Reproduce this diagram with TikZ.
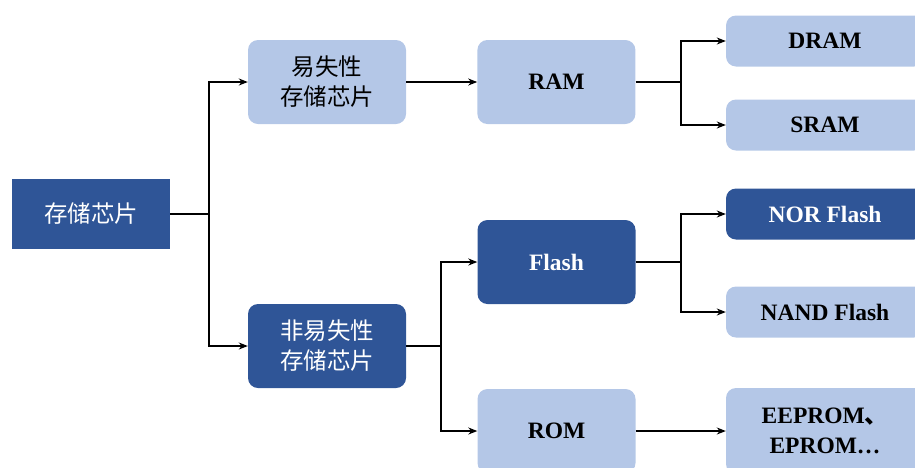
\documentclass[tikz,border=0pt]{standalone}
\usepackage{fontspec}
\setmainfont{Liberation Serif}
\newfontfamily\cjk{Noto Sans CJK SC}
\usepackage{xcolor}
\usetikzlibrary{arrows.meta}
\usetikzlibrary{positioning}
\definecolor{darkblue}{HTML}{2F5597}
\definecolor{lightblue}{HTML}{B4C7E7}

\begin{document}
\begin{tikzpicture}[x=1pt,y=-1pt]
    \tikzstyle{box} = [rectangle, rounded corners=10pt, minimum width=158pt, minimum height=84pt, inner sep=0pt, align=center]
    \tikzstyle{darkbox} = [box, fill=darkblue, text=white]
    \tikzstyle{lightbox} = [box, fill=lightblue, text=black]
    \tikzstyle{leafbox} = [minimum width=198pt, minimum height=51pt]
    \tikzstyle{zh} = [font=\cjk\fontsize{23.5}{30}\selectfont]
    \tikzstyle{en} = [font=\bfseries\fontsize{23.5}{30}\selectfont]
    \tikzstyle{arr} = [-{Stealth[length=9pt,width=7pt]}, line width=1.3pt]
    \tikzstyle{line} = [line width=1.3pt]
    \useasboundingbox (0,0) rectangle (915,467);
        %%% root %%%
        \node[darkbox,zh,rounded corners=0pt,minimum height=70pt] (chip) at (91,214) {存储芯片};
        %%% second level
        \node[lightbox,zh] (vol) at (327,82) {易失性\\存储芯片};
        \node[darkbox,zh] (nonvol) at (327,346) {非易失性\\存储芯片};
        %%% third level
        \node[lightbox,en,right=71pt of vol] (ram) {RAM};
        \node[darkbox,en] (flash) at (556.5,262) {Flash};
        \node[lightbox,en] (rom) at (556.5,431) {ROM};
        %%% leaves
        \node[lightbox,en,leafbox] (dram) at (825,41) {DRAM};
        \node[lightbox,en,leafbox] (sram) at (825,125) {SRAM};
        \node[darkbox,en,leafbox] (nor) at (825,214) {NOR Flash};
        \node[lightbox,en,leafbox] (nand) at (825,312) {NAND Flash};
        \node[lightbox,en,leafbox,minimum height=86pt] (eeprom) at (825,431) {EEPROM\cjk、\\EPROM\ldots};
        %%% junctions
        \coordinate (jchip) at (209,214);
        \coordinate (jnonvol) at (441,346);
        \coordinate (jram) at (681,82);
        \coordinate (jflash) at (681,262);
        %%% connections
        \draw[line] (chip.east) -- (jchip);
        \draw[arr] (jchip) |- (vol.west);
        \draw[arr] (jchip) |- (nonvol.west);
        \draw[arr] (vol) -- (ram);
        \draw[line] (ram.east) -- (jram);
        \draw[arr] (jram) |- (dram.west);
        \draw[arr] (jram) |- (sram.west);
        \draw[line] (nonvol.east) -- (jnonvol);
        \draw[arr] (jnonvol) |- (flash.west);
        \draw[arr] (jnonvol) |- (rom.west);
        \draw[line] (flash.east) -- (jflash);
        \draw[arr] (jflash) |- (nor.west);
        \draw[arr] (jflash) |- (nand.west);
        \draw[arr] (rom) -- (eeprom);
\end{tikzpicture}
\end{document}
